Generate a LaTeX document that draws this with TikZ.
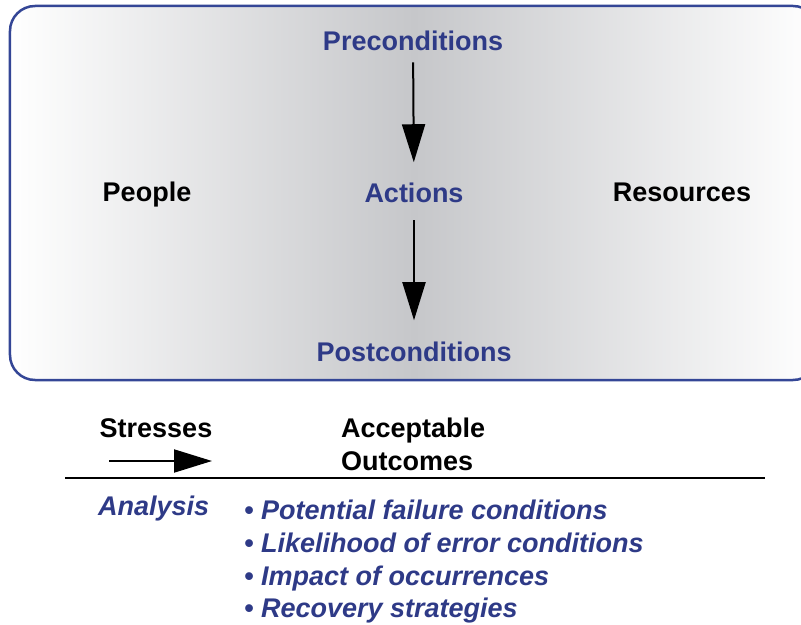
\documentclass[tikz,border=0pt]{standalone}
\usepackage{fontspec}
\setmainfont{Liberation Sans}
\usetikzlibrary{arrows.meta,positioning}

\definecolor{navy}{RGB}{46,58,135}
\definecolor{framenavy}{RGB}{52,70,150}
\definecolor{midgray}{RGB}{198,199,202}

\tikzset{
  lbl/.style={font=\fontsize{27.1}{33}\selectfont\bfseries, inner sep=0pt, anchor=base},
  bluelbl/.style={lbl, text=navy},
  itemlbl/.style={lbl, text=navy, font=\fontsize{27.1}{33}\selectfont\bfseries\itshape, anchor=base west},
  flow/.style={-{Triangle[length=38bp,width=23bp]}, line width=2bp}
}

\begin{document}
\begin{tikzpicture}[x=1bp,y=-1bp]
        \useasboundingbox (0,0) rectangle (801,625);

        % shaded frame (runs off the right edge)
        \node[draw=framenavy, line width=2.5bp, rounded corners=25bp,
              left color=white, right color=white, middle color=midgray,
              minimum width=808bp, minimum height=374bp, inner sep=0pt] (frame) at (414,193) {};

        % middle column
        \node[bluelbl] (pre) at (413,51) {Preconditions};
        \node[bluelbl] (act) at (414,203) {Actions};
        \node[bluelbl] (post) at (414,361) {Postconditions};

        % side labels
        \node[lbl] (people) at (147,202) {People};
        \node[lbl] (res) at (682,202) {Resources};

        % arcs between conditions
        \draw[flow, shorten <=11bp, shorten >=21bp] (pre) -- (act);
        \draw[flow, shorten <=17bp, shorten >=21bp] (act) -- (post);

        % ================== lower part ==================
        \node[lbl] (stress) at (156,437) {Stresses};
        \node[lbl, anchor=base west] (accept) at (341,437) {Acceptable};
        \node[lbl, anchor=base west] (outcome) at (341,470) {Outcomes};

        \coordinate (stressIn) at (109,461);
        \coordinate (stressOut) at (212,461);
        \draw[flow] (stressIn) -- (stressOut);

        \coordinate (ruleL) at (65,478);
        \coordinate (ruleR) at (765,478);
        \draw[line width=2bp] (ruleL) -- (ruleR);
        % ================================================

        % analysis list
        \node[itemlbl] (analysis) at (98,515) {Analysis};
        \node[itemlbl] (item1) at (244,519.5) {• Potential failure conditions};
        \node[itemlbl] (item2) at (244,552) {• Likelihood of error conditions};
        \node[itemlbl] (item3) at (244,585) {• Impact of occurrences};
        \node[itemlbl] (item4) at (244,617) {• Recovery strategies};

    \end{tikzpicture}
\end{document}
